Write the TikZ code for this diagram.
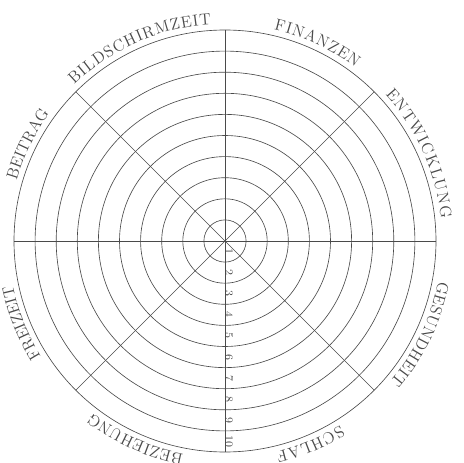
\documentclass[tikz,border=0pt]{standalone}
\usepackage{fontspec}
\usepackage{tikz}
\usetikzlibrary{calc,decorations.text}
\definecolor{ink}{HTML}{4A4A4A}
\tikzset{
  ring/.style  = {draw=ink, line width=0.45pt},
  spoke/.style = {draw=ink, line width=0.45pt},
  num/.style   = {font=\fontsize{8}{9}\selectfont, text=ink, rotate=-90,
                  inner sep=0pt},
  lab/.style   = {decorate, decoration={text along path, text align={fit to path},
                  text={|\fontsize{11.5}{13}\selectfont\color{ink}|#1}}}
}

\begin{document}
\begin{tikzpicture}[x=0.025cm,y=0.025cm]
  \useasboundingbox (0,0) rectangle (463,463);
  \coordinate (c) at (225,222);
  % rings
  \foreach \k in {1,...,10}
    \draw[ring] (c) circle[radius=21.1*\k];
  % spokes
  \draw[spoke] (c) ++(90:211)  -- ++(270:422);
  \draw[spoke] (c) ++(0:211)   -- ++(180:422);
  \draw[spoke] (c) ++(45:211)  -- ++(225:422);
  \draw[spoke] (c) ++(135:211) -- ++(315:422);
  % scale
  \foreach \k in {1,...,10}
    \node[num] (n\k) at ($(c)+(4,{10.55-21.1*\k})$) {\k};
  % areas
  \path[lab=BILDSCHIRMZEIT] (c) ++(134:217) arc[start angle=134, end angle=93.6, radius=217];
  \path[lab=FINANZEN]       (c) ++(77:217)  arc[start angle=77,  end angle=53,   radius=217];
  \path[lab=ENTWICKLUNG]    (c) ++(42.4:217) arc[start angle=42.4, end angle=5.9, radius=217];
  \path[lab=GESUNDHEIT]     (c) ++(-10.7:217) arc[start angle=-10.7, end angle=-40.4, radius=217];
  \path[lab=SCHLAF]         (c) ++(-58:217) arc[start angle=-58, end angle=-76.5, radius=217];
  \path[lab=BEZIEHUNG]      (c) ++(-101:217) arc[start angle=-101, end angle=-127.7, radius=217];
  \path[lab=FREIZEIT]       (c) ++(212:217) arc[start angle=212, end angle=193, radius=217];
  \path[lab=BEITRAG]        (c) ++(163.8:217) arc[start angle=163.8, end angle=144.6, radius=217];
\end{tikzpicture}
\end{document}
